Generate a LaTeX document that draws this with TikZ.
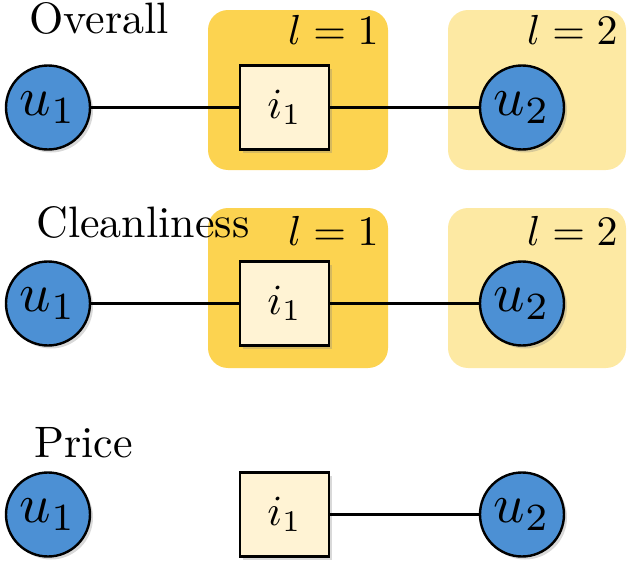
\RequirePackage{fix-cm}
\documentclass[tikz,border=0pt]{standalone}
\usepackage{amsmath}
\usepackage{xcolor}
\usepackage{tikz}
\usetikzlibrary{shadows}

\definecolor{layergold}{RGB}{252,211,80}
\definecolor{layerlight}{RGB}{253,233,163}
\definecolor{userblue}{RGB}{76,144,212}
\definecolor{itemcream}{RGB}{255,243,212}

% 10pt design size, blown up
\newcommand{\rowname}[1]{\scalebox{2.2}{\fontsize{10}{12}\selectfont #1}}
\newcommand{\bigmath}[2]{\scalebox{#1}{\fontsize{10}{12}\selectfont $#2$}}

\begin{document}
\begin{tikzpicture}[x=0.5pt,y=-0.5pt,
	user/.style={circle,draw,line width=1.2pt,fill=userblue,minimum size=42pt,inner sep=0pt,
		drop shadow={opacity=0.3,shadow xshift=1.5pt,shadow yshift=-1.5pt}},
	item/.style={rectangle,draw,line width=1.2pt,fill=itemcream,minimum width=44.5pt,minimum height=42pt,inner sep=0pt,
		drop shadow={opacity=0.3,shadow xshift=1.5pt,shadow yshift=-1.5pt}},
	layer/.style={rounded corners=10pt},
	lbl/.style={inner sep=0pt},
	link/.style={line width=1.2pt}]
	\useasboundingbox (0,0) rectangle (628,573);

	% layers
	\fill[layergold,layer] (208,10) rectangle (388,170);
	\fill[layerlight,layer] (448,10) rectangle (626,170);
	\fill[layergold,layer] (208,208) rectangle (388,368);
	\fill[layerlight,layer] (448,208) rectangle (626,368);

	% Overall
	\node[lbl,anchor=base west] (overall) at (29,33) {\rowname{Overall}};
	\node[lbl,anchor=base east] (la1) at (379,45) {\bigmath{2.1}{l=1}};
	\node[lbl,anchor=base east] (la2) at (618,45) {\bigmath{2.1}{l=2}};
	\node[user] (ua) at (48,107.5) {\bigmath{2.75}{u_1}};
	\node[item] (ia) at (284.5,107.5) {\bigmath{2.15}{i_1}};
	\node[user] (va) at (522,107.5) {\bigmath{2.75}{u_2}};
	\draw[link] (ua) -- (ia);
	\draw[link] (ia) -- (va);

	% Cleanliness
	\node[lbl,anchor=base west] (clean) at (36,237) {\rowname{Cleanliness}};
	\node[lbl,anchor=base east] (lb1) at (379,245) {\bigmath{2.1}{l=1}};
	\node[lbl,anchor=base east] (lb2) at (618,245) {\bigmath{2.1}{l=2}};
	\node[user] (ub) at (48,303.5) {\bigmath{2.75}{u_1}};
	\node[item] (ib) at (284.5,303.5) {\bigmath{2.15}{i_1}};
	\node[user] (vb) at (522,303.5) {\bigmath{2.75}{u_2}};
	\draw[link] (ub) -- (ib);
	\draw[link] (ib) -- (vb);

	% Price
	\node[lbl,anchor=base west] (price) at (34,457) {\rowname{Price}};
	\node[user] (uc) at (48,514.5) {\bigmath{2.75}{u_1}};
	\node[item] (ic) at (284.5,514.5) {\bigmath{2.15}{i_1}};
	\node[user] (vc) at (522,514.5) {\bigmath{2.75}{u_2}};
	\draw[link] (ic) -- (vc);
\end{tikzpicture}
\end{document}
